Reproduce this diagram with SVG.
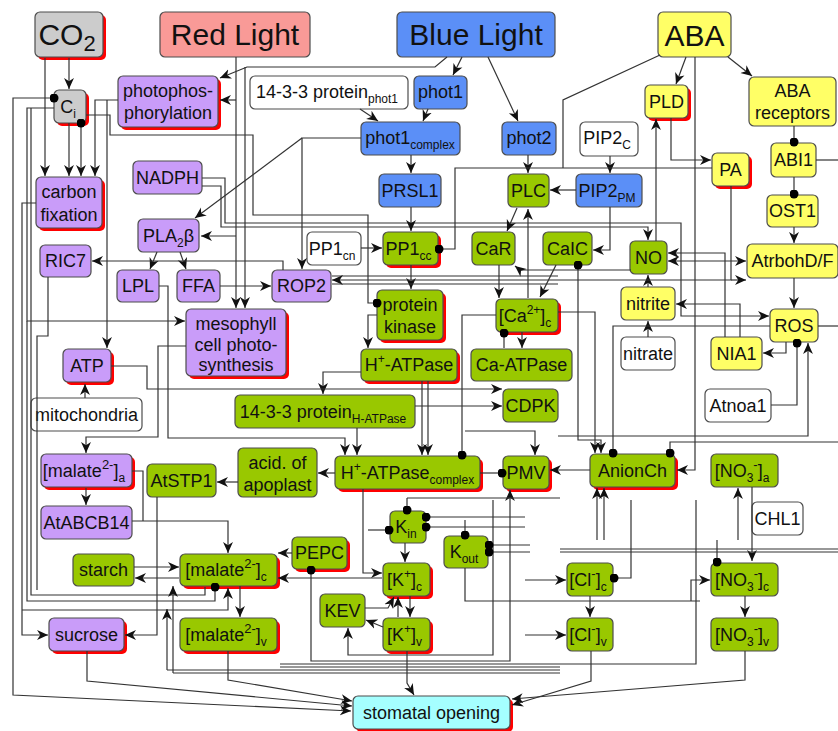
<svg xmlns="http://www.w3.org/2000/svg" width="838" height="731" viewBox="0 0 838 731">
<defs>
<marker id="a" viewBox="0 0 10 10" refX="10" refY="5" markerWidth="11" markerHeight="11" orient="auto" markerUnits="userSpaceOnUse"><path d="M0,0.5 L10,5 L0,9.5 L3,5 z" fill="#111"/></marker>
<marker id="d" viewBox="0 0 10 10" refX="5" refY="5" markerWidth="9" markerHeight="9" markerUnits="userSpaceOnUse"><circle cx="5" cy="5" r="5" fill="#000"/></marker>
</defs>
<style>
.r{stroke:#4d4d4d;stroke-width:1.2}
.gy{fill:#cccccc}.pk{fill:#f99a97}.bl{fill:#5b8ff7}.yl{fill:#ffff66}.pu{fill:#c99cf9}.gr{fill:#99c800}.wh{fill:#ffffff}.cy{fill:#a5ffff}
.sh{fill:#ff0000}
text{font-family:"Liberation Sans",Arial,sans-serif;font-size:18px;fill:#111;text-anchor:middle}
.big{font-size:30px}
.s{font-size:12px}
.sp{font-size:13px}
#connectors path{fill:none;stroke:#333;stroke-width:1.2}
</style>
<rect width="838" height="731" fill="#fff"/>

<g id="nodes">
<g id="n-co2"><rect class="sh" x="38" y="15" width="68" height="45" rx="5"/><rect class="r gy" x="35" y="12" width="68" height="45" rx="5"/><text class="big" x="67" y="45">CO<tspan dy="6" font-size="22">2</tspan></text></g>
<g id="n-red"><rect class="r pk" x="160" y="12" width="150" height="45" rx="5"/><text class="big" x="235" y="45">Red Light</text></g>
<g id="n-blue"><rect class="r bl" x="397" y="12" width="158" height="45" rx="5"/><text class="big" x="476" y="45">Blue Light</text></g>
<g id="n-aba"><rect class="r yl" x="658" y="12" width="73" height="45" rx="5"/><text class="big" x="694.5" y="46">ABA</text></g>
<g id="n-ci"><rect class="sh" x="57" y="93" width="32" height="33" rx="5"/><rect class="r gy" x="54" y="90" width="32" height="33" rx="5"/><text x="68" y="113">C<tspan class="s" dy="5">i</tspan></text></g>
<g id="n-photophos"><rect class="sh" x="121" y="79" width="100" height="51" rx="5"/><rect class="r pu" x="118" y="76" width="100" height="51" rx="5"/><text x="168" y="97">photophos-</text><text x="168" y="119">phorylation</text></g>
<g id="n-1433phot1"><rect class="r wh" x="250" y="76" width="158" height="33" rx="5"/><text x="327" y="98">14-3-3 protein<tspan class="s" dy="5">phot1</tspan></text></g>
<g id="n-phot1"><rect class="r bl" x="414" y="76" width="53" height="33" rx="5"/><text x="440.5" y="98">phot1</text></g>
<g id="n-phot1c"><rect class="r bl" x="361" y="122" width="99" height="33" rx="5"/><text x="410" y="144">phot1<tspan class="s" dy="5">complex</tspan></text></g>
<g id="n-phot2"><rect class="r bl" x="502" y="122" width="54" height="33" rx="5"/><text x="529" y="144">phot2</text></g>
<g id="n-pld"><rect class="sh" x="648" y="88" width="43" height="33" rx="5"/><rect class="r yl" x="645" y="85" width="43" height="33" rx="5"/><text x="666.5" y="108">PLD</text></g>
<g id="n-abarec"><rect class="r yl" x="749" y="77" width="87" height="49" rx="5"/><text x="792.5" y="97">ABA</text><text x="792.5" y="119">receptors</text></g>
<g id="n-pip2c"><rect class="r wh" x="580" y="122" width="58" height="34" rx="5"/><text x="607" y="144">PIP2<tspan class="s" dy="5">C</tspan></text></g>
<g id="n-pa"><rect class="sh" x="715" y="156" width="37" height="33" rx="5"/><rect class="r yl" x="712" y="153" width="37" height="33" rx="5"/><text x="730.5" y="176">PA</text></g>
<g id="n-abi1"><rect class="r yl" x="771" y="143" width="45" height="34" rx="5"/><text x="793.5" y="166">ABI1</text></g>
<g id="n-nadph"><rect class="r pu" x="133" y="161" width="69" height="33" rx="5"/><text x="167.5" y="184">NADPH</text></g>
<g id="n-cfix"><rect class="sh" x="39" y="180" width="66" height="51" rx="5"/><rect class="r pu" x="36" y="177" width="66" height="51" rx="5"/><text x="69" y="198">carbon</text><text x="69" y="221">fixation</text></g>
<g id="n-prsl1"><rect class="r bl" x="379" y="174" width="62" height="33" rx="5"/><text x="410" y="197">PRSL1</text></g>
<g id="n-plc"><rect class="r gr" x="508" y="174" width="41" height="33" rx="5"/><text x="528.5" y="197">PLC</text></g>
<g id="n-pip2pm"><rect class="r bl" x="576" y="174" width="66" height="33" rx="5"/><text x="607" y="197">PIP2<tspan class="s" dy="5">PM</tspan></text></g>
<g id="n-ost1"><rect class="r yl" x="767" y="195" width="51" height="32" rx="5"/><text x="792.5" y="217">OST1</text></g>
<g id="n-pla2"><rect class="r pu" x="138" y="219" width="61" height="33" rx="5"/><text x="168.5" y="242">PLA<tspan class="s" dy="5">2</tspan><tspan dy="-5">β</tspan></text></g>
<g id="n-pp1cn"><rect class="r wh" x="307" y="232" width="54" height="33" rx="5"/><text x="332" y="255">PP1<tspan class="s" dy="5">cn</tspan></text></g>
<g id="n-pp1cc"><rect class="sh" x="386" y="235" width="55" height="33" rx="5"/><rect class="r gr" x="383" y="232" width="55" height="33" rx="5"/><text x="408.5" y="255">PP1<tspan class="s" dy="5">cc</tspan></text></g>
<g id="n-car"><rect class="r gr" x="472" y="232" width="43" height="33" rx="5"/><text x="493.5" y="255">CaR</text></g>
<g id="n-caic"><rect class="r gr" x="543" y="232" width="49" height="33" rx="5"/><text x="567.5" y="255">CaIC</text></g>
<g id="n-no"><rect class="r gr" x="630" y="241" width="37" height="33" rx="5"/><text x="648.5" y="264">NO</text></g>
<g id="n-atrboh"><rect class="r yl" x="747" y="244" width="91" height="34" rx="5"/><text x="792.5" y="267">AtrbohD/F</text></g>
<g id="n-ric7"><rect class="r pu" x="40" y="245" width="51" height="32" rx="5"/><text x="65.5" y="267">RIC7</text></g>
<g id="n-lpl"><rect class="r pu" x="117" y="270" width="42" height="32" rx="5"/><text x="138" y="292">LPL</text></g>
<g id="n-ffa"><rect class="r pu" x="177" y="270" width="43" height="32" rx="5"/><text x="198.5" y="292">FFA</text></g>
<g id="n-rop2"><rect class="r pu" x="272" y="270" width="59" height="32" rx="5"/><text x="301.5" y="292">ROP2</text></g>
<g id="n-nitrite"><rect class="r yl" x="621" y="287" width="54" height="33" rx="5"/><text x="648" y="310">nitrite</text></g>
<g id="n-pk"><rect class="sh" x="380" y="293" width="66" height="50" rx="5"/><rect class="r gr" x="377" y="290" width="66" height="50" rx="5"/><text x="410" y="311">protein</text><text x="410" y="333">kinase</text></g>
<g id="n-ca2c"><rect class="sh" x="499" y="302" width="62" height="33" rx="5"/><rect class="r gr" x="496" y="299" width="62" height="33" rx="5"/><text x="525" y="322">[Ca<tspan class="s" dy="-8">2+</tspan><tspan dy="8">]</tspan><tspan class="s" dy="5">c</tspan></text></g>
<g id="n-ros"><rect class="r yl" x="770" y="309" width="48" height="33" rx="5"/><text x="794" y="332">ROS</text></g>
<g id="n-meso"><rect class="sh" x="189" y="312" width="100" height="67" rx="5"/><rect class="r pu" x="186" y="309" width="100" height="67" rx="5"/><text x="236" y="330">mesophyll</text><text x="236" y="351">cell photo-</text><text x="236" y="371">synthesis</text></g>
<g id="n-nitrate"><rect class="r wh" x="621" y="337" width="54" height="33" rx="5"/><text x="648" y="360">nitrate</text></g>
<g id="n-nia1"><rect class="r yl" x="711" y="337" width="51" height="33" rx="5"/><text x="736.5" y="360">NIA1</text></g>
<g id="n-hatp"><rect class="sh" x="364" y="352" width="96" height="32" rx="5"/><rect class="r gr" x="361" y="349" width="96" height="32" rx="5"/><text x="409" y="371">H<tspan class="s" dy="-8">+</tspan><tspan dy="8">-ATPase</tspan></text></g>
<g id="n-caatp"><rect class="r gr" x="471" y="349" width="101" height="32" rx="5"/><text x="521.5" y="371">Ca-ATPase</text></g>
<g id="n-atp"><rect class="sh" x="66" y="352" width="48" height="33" rx="5"/><rect class="r pu" x="63" y="349" width="48" height="33" rx="5"/><text x="87" y="372">ATP</text></g>
<g id="n-cdpk"><rect class="r gr" x="503" y="389" width="55" height="33" rx="5"/><text x="530.5" y="412">CDPK</text></g>
<g id="n-atnoa1"><rect class="r wh" x="705" y="389" width="66" height="33" rx="5"/><text x="738" y="412">Atnoa1</text></g>
<g id="n-1433h"><rect class="r gr" x="235" y="395" width="180" height="33" rx="5"/><text x="323" y="418">14-3-3 protein<tspan class="s" dy="5">H-ATPase</tspan></text></g>
<g id="n-mito"><rect class="r wh" x="31" y="398" width="111" height="33" rx="5"/><text x="86.5" y="421">mitochondria</text></g>
<g id="n-mala"><rect class="sh" x="44" y="457" width="91" height="33" rx="5"/><rect class="r pu" x="41" y="454" width="91" height="33" rx="5"/><text x="84" y="477">[malate<tspan class="sp" dy="-8">2-</tspan><tspan dy="8">]</tspan><tspan class="s" dy="5">a</tspan></text></g>
<g id="n-acid"><rect class="r gr" x="238" y="448" width="79" height="49" rx="5"/><text x="277.5" y="469">acid. of</text><text x="277.5" y="491">apoplast</text></g>
<g id="n-hatpc"><rect class="sh" x="338" y="459" width="145" height="33" rx="5"/><rect class="r gr" x="335" y="456" width="145" height="33" rx="5"/><text x="407.5" y="479">H<tspan class="s" dy="-8">+</tspan><tspan dy="8">-ATPase</tspan><tspan class="s" dy="5">complex</tspan></text></g>
<g id="n-pmv"><rect class="sh" x="506" y="459" width="46" height="33" rx="5"/><rect class="r gr" x="503" y="456" width="46" height="33" rx="5"/><text x="526" y="479">PMV</text></g>
<g id="n-anion"><rect class="sh" x="593" y="457" width="85" height="33" rx="5"/><rect class="r gr" x="590" y="454" width="85" height="33" rx="5"/><text x="632.5" y="477">AnionCh</text></g>
<g id="n-no3a"><rect class="r gr" x="711" y="454" width="67" height="33" rx="5"/><text x="742" y="477">[NO<tspan class="s" dy="5">3</tspan><tspan class="sp" dy="-13">-</tspan><tspan dy="8">]</tspan><tspan class="s" dy="5">a</tspan></text></g>
<g id="n-atstp1"><rect class="r gr" x="147" y="464" width="69" height="33" rx="5"/><text x="181.5" y="487">AtSTP1</text></g>
<g id="n-atabcb14"><rect class="r pu" x="41" y="506" width="91" height="33" rx="5"/><text x="86.5" y="529">AtABCB14</text></g>
<g id="n-chl1"><rect class="r wh" x="752" y="502" width="51" height="33" rx="5"/><text x="777.5" y="525">CHL1</text></g>
<g id="n-kin"><rect class="r gr" x="390" y="511" width="36" height="32" rx="5"/><text x="406" y="533">K<tspan class="s" dy="5">in</tspan></text></g>
<g id="n-kout"><rect class="r gr" x="444" y="536" width="44" height="32" rx="5"/><text x="464" y="558">K<tspan class="s" dy="5">out</tspan></text></g>
<g id="n-pepc"><rect class="sh" x="295" y="540" width="55" height="32" rx="5"/><rect class="r gr" x="292" y="537" width="55" height="32" rx="5"/><text x="319.5" y="559">PEPC</text></g>
<g id="n-starch"><rect class="r gr" x="73" y="554" width="61" height="32" rx="5"/><text x="103.5" y="576">starch</text></g>
<g id="n-malc"><rect class="sh" x="183" y="557" width="97" height="32" rx="5"/><rect class="r gr" x="180" y="554" width="97" height="32" rx="5"/><text x="226" y="576">[malate<tspan class="sp" dy="-8">2-</tspan><tspan dy="8">]</tspan><tspan class="s" dy="5">c</tspan></text></g>
<g id="n-kc"><rect class="sh" x="386" y="566" width="47" height="33" rx="5"/><rect class="r gr" x="383" y="563" width="47" height="33" rx="5"/><text x="404.5" y="586">[K<tspan class="s" dy="-8">+</tspan><tspan dy="8">]</tspan><tspan class="s" dy="5">c</tspan></text></g>
<g id="n-clc"><rect class="r gr" x="567" y="563" width="46" height="33" rx="5"/><text x="588" y="586">[Cl<tspan class="sp" dy="-8">-</tspan><tspan dy="8">]</tspan><tspan class="s" dy="5">c</tspan></text></g>
<g id="n-no3c"><rect class="r gr" x="711" y="563" width="67" height="33" rx="5"/><text x="742" y="586">[NO<tspan class="s" dy="5">3</tspan><tspan class="sp" dy="-13">-</tspan><tspan dy="8">]</tspan><tspan class="s" dy="5">c</tspan></text></g>
<g id="n-kev"><rect class="r gr" x="320" y="594" width="45" height="33" rx="5"/><text x="342.5" y="617">KEV</text></g>
<g id="n-kv"><rect class="sh" x="386" y="621" width="47" height="33" rx="5"/><rect class="r gr" x="383" y="618" width="47" height="33" rx="5"/><text x="404.5" y="641">[K<tspan class="s" dy="-8">+</tspan><tspan dy="8">]</tspan><tspan class="s" dy="5">v</tspan></text></g>
<g id="n-sucrose"><rect class="sh" x="52" y="621" width="75" height="33" rx="5"/><rect class="r pu" x="49" y="618" width="75" height="33" rx="5"/><text x="86.5" y="641">sucrose</text></g>
<g id="n-malv"><rect class="sh" x="183" y="621" width="97" height="33" rx="5"/><rect class="r gr" x="180" y="618" width="97" height="33" rx="5"/><text x="226" y="641">[malate<tspan class="sp" dy="-8">2-</tspan><tspan dy="8">]</tspan><tspan class="s" dy="5">v</tspan></text></g>
<g id="n-clv"><rect class="r gr" x="567" y="618" width="46" height="33" rx="5"/><text x="588" y="641">[Cl<tspan class="sp" dy="-8">-</tspan><tspan dy="8">]</tspan><tspan class="s" dy="5">v</tspan></text></g>
<g id="n-no3v"><rect class="r gr" x="711" y="618" width="67" height="33" rx="5"/><text x="742" y="641">[NO<tspan class="s" dy="5">3</tspan><tspan class="sp" dy="-13">-</tspan><tspan dy="8">]</tspan><tspan class="s" dy="5">v</tspan></text></g>
<g id="n-stomatal"><rect class="sh" x="356" y="699" width="157" height="33" rx="5"/><rect class="r cy" x="353" y="696" width="157" height="33" rx="5"/><text x="431.5" y="719">stomatal opening</text></g>
</g>

<g id="connectors">
<path d="M69,58V89" marker-end="url(#a)"/>
<path d="M45,58V176" marker-end="url(#a)"/>
<path d="M69,123V176" marker-end="url(#a)"/>
<path d="M81,123V176" marker-start="url(#d)" marker-end="url(#a)"/>
<path d="M118,100H95V176" marker-end="url(#a)"/>
<path d="M107,100V348" marker-end="url(#a)"/>
<path d="M54,98H13V695L351,711" marker-start="url(#d)" marker-end="url(#a)"/>
<path d="M54,108H27V321H185" marker-end="url(#a)"/>
<path d="M27,321V601H215V587" marker-end="url(#d)"/>
<path d="M31,108V595H205V587"/>
<path d="M36,203H22V635H48" marker-end="url(#a)"/>
<path d="M22,610H228V588" marker-end="url(#a)"/>
<path d="M86,115H110V135H253V215H368V303H377" marker-end="url(#d)"/>
<path d="M202,178H225V223H681V316H769" marker-end="url(#a)"/>
<path d="M202,186H221V227H648V240" marker-end="url(#a)"/>
<path d="M236,57V308" marker-end="url(#a)"/>
<path d="M236,100H220" marker-end="url(#a)"/>
<path d="M236,236H201" marker-end="url(#a)"/>
<path d="M447,57L435,67H247L220,78" marker-end="url(#a)"/>
<path d="M245,67V308" marker-end="url(#a)"/>
<path d="M462,57L453,75" marker-end="url(#a)"/>
<path d="M488,57L518,121" marker-end="url(#a)"/>
<path d="M360,109L378,121" marker-end="url(#a)"/>
<path d="M428,109L423,121" marker-end="url(#a)"/>
<path d="M411,155V173" marker-end="url(#a)"/>
<path d="M528,155V173" marker-end="url(#a)"/>
<path d="M361,138H302V269" marker-end="url(#a)"/>
<path d="M302,138L195,218" marker-end="url(#a)"/>
<path d="M157,252L150,269" marker-end="url(#a)"/>
<path d="M180,252L186,269" marker-end="url(#a)"/>
<path d="M220,286H271" marker-end="url(#a)"/>
<path d="M283,270V261H92" marker-end="url(#a)"/>
<path d="M159,286H168V438H345V455" marker-end="url(#a)"/>
<path d="M48,277V336H37V590"/>
<path d="M686,57L676,84" marker-end="url(#a)"/>
<path d="M728,57L752,76" marker-end="url(#a)"/>
<path d="M695,57V470H677" marker-end="url(#a)"/>
<path d="M660,55L563,100V168"/>
<path d="M794,126V142" marker-end="url(#d)"/>
<path d="M794,177V194" marker-end="url(#d)"/>
<path d="M794,227V243" marker-end="url(#a)"/>
<path d="M794,278V308" marker-end="url(#a)"/>
<path d="M816,160H838"/>
<path d="M818,326H838"/>
<path d="M671,118V160H711" marker-end="url(#a)"/>
<path d="M656,241V119" marker-end="url(#a)"/>
<path d="M610,156V173" marker-end="url(#a)"/>
<path d="M576,190H550" marker-end="url(#a)"/>
<path d="M712,168H455V249H439" marker-end="url(#d)"/>
<path d="M411,207V231" marker-end="url(#a)"/>
<path d="M361,248H382" marker-end="url(#a)"/>
<path d="M411,265V289" marker-end="url(#a)"/>
<path d="M648,337V321" marker-end="url(#a)"/>
<path d="M648,287V275" marker-end="url(#a)"/>
<path d="M725,337V253H668" marker-end="url(#a)"/>
<path d="M707,261H668" marker-end="url(#a)"/>
<path d="M707,261H746" marker-end="url(#a)"/>
<path d="M740,337V304H676" marker-end="url(#a)"/>
<path d="M786,342V353H763" marker-end="url(#a)"/>
<path d="M771,405H797V343" marker-end="url(#d)"/>
<path d="M558,436H808V343" marker-end="url(#a)"/>
<path d="M558,280H731V186"/>
<path d="M731,280H746" marker-end="url(#a)"/>
<path d="M631,270H520L515,266" marker-end="url(#a)"/>
<path d="M610,207V250H593" marker-end="url(#a)"/>
<path d="M517,208L507,231" marker-end="url(#a)"/>
<path d="M528,298V209" marker-end="url(#a)"/>
<path d="M499,265V298" marker-end="url(#a)"/>
<path d="M556,265L540,297" marker-end="url(#a)"/>
<path d="M504,348V333" marker-end="url(#d)"/>
<path d="M522,332V348" marker-end="url(#a)"/>
<path d="M496,315H462V455" marker-end="url(#d)"/>
<path d="M578,265V440H601V453" marker-start="url(#d)" marker-end="url(#a)"/>
<path d="M558,312H595V453" marker-end="url(#a)"/>
<path d="M770,326H613V453" marker-end="url(#d)"/>
<path d="M670,453V442H838" marker-start="url(#d)"/>
<path d="M558,276H332"/>
<path d="M558,280H332" marker-end="url(#a)"/>
<path d="M558,284H332"/>
<path d="M377,315H368V348" marker-end="url(#a)"/>
<path d="M361,372H323V394" marker-end="url(#a)"/>
<path d="M422,381V455" marker-end="url(#a)"/>
<path d="M428,381V455" marker-end="url(#a)"/>
<path d="M357,428V455" marker-end="url(#a)"/>
<path d="M335,473H318" marker-end="url(#a)"/>
<path d="M238,482H217" marker-end="url(#a)"/>
<path d="M480,473H502" marker-end="url(#d)"/>
<path d="M590,470H550" marker-end="url(#a)"/>
<path d="M111,366H147V389H502" marker-end="url(#a)"/>
<path d="M415,406H502" marker-end="url(#a)"/>
<path d="M465,431H535V455" marker-end="url(#a)"/>
<path d="M85,398V384" marker-end="url(#a)"/>
<path d="M186,346H158V437H86V453" marker-end="url(#a)"/>
<path d="M86,488V505" marker-end="url(#a)"/>
<path d="M132,471H143V521"/>
<path d="M132,521H228V553" marker-end="url(#a)"/>
<path d="M157,497V635H125" marker-end="url(#a)"/>
<path d="M134,567H179" marker-end="url(#a)"/>
<path d="M179,578H135" marker-end="url(#a)"/>
<path d="M240,586V617" marker-end="url(#a)"/>
<path d="M292,553H278" marker-end="url(#a)"/>
<path d="M382,578H278" marker-end="url(#a)"/>
<path d="M363,489V573H382" marker-end="url(#a)"/>
<path d="M405,543V562" marker-end="url(#a)"/>
<path d="M410,596V617" marker-end="url(#a)"/>
<path d="M398,617V597" marker-end="url(#a)"/>
<path d="M365,608H388L394,597" marker-end="url(#a)"/>
<path d="M383,627L366,620" marker-end="url(#a)"/>
<path d="M407,651V683L414,695" marker-end="url(#a)"/>
<path d="M311,570V661H510V490" marker-start="url(#d)" marker-end="url(#a)"/>
<path d="M493,500V655H348V628" marker-end="url(#a)"/>
<path d="M465,568V601H700"/>
<path d="M407,498V510" marker-end="url(#d)"/>
<path d="M368,530H389" marker-end="url(#d)"/>
<path d="M407,498H560"/>
<path d="M525,517H426" marker-end="url(#d)"/>
<path d="M525,527H426" marker-end="url(#d)"/>
<path d="M465,520V535" marker-end="url(#d)"/>
<path d="M530,545H489" marker-end="url(#d)"/>
<path d="M530,552H489" marker-end="url(#d)"/>
<path d="M590,596V617" marker-end="url(#a)"/>
<path d="M745,596V617" marker-end="url(#a)"/>
<path d="M591,651V681L512,705" marker-end="url(#a)"/>
<path d="M745,651V680L512,699" marker-end="url(#a)"/>
<path d="M228,651V680L352,701" marker-end="url(#a)"/>
<path d="M87,651V681L352,706" marker-end="url(#a)"/>
<path d="M614,578H631V500" marker-start="url(#d)"/>
<path d="M525,580H566" marker-end="url(#a)"/>
<path d="M525,635H566" marker-end="url(#a)"/>
<path d="M691,601V580H710" marker-end="url(#a)"/>
<path d="M752,487V561" marker-end="url(#a)"/>
<path d="M738,540V488" marker-end="url(#a)"/>
<path d="M717,540V562" marker-end="url(#d)"/>
<path d="M597,540V488" marker-end="url(#a)"/>
<path d="M604,540V488" marker-end="url(#a)"/>
<path d="M560,549H838"/>
<path d="M560,552H838"/>
<path d="M280,664H696V500"/>
<path d="M280,667H560"/>
<path d="M167,670H560"/>
<path d="M173,673H560"/>
<path d="M173,673V586" marker-end="url(#a)"/>
<path d="M167,670V609" marker-end="url(#a)"/>
</g>
</svg>
